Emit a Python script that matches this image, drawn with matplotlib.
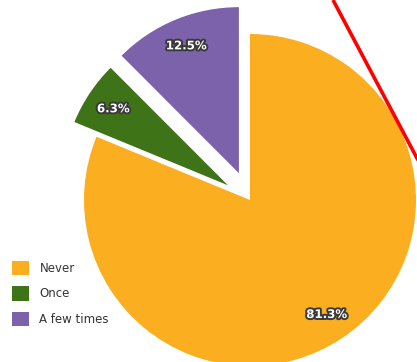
import matplotlib.pyplot as plt
import matplotlib.patheffects as pe
from matplotlib.patches import Patch
from matplotlib.lines import Line2D

# Risposte alla domanda (percentuali)
categorie = ["Never", "Once", "A few times"]
percentuali = [81.3, 6.3, 12.5]
colori = ["#FBAE1F", "#3F7318", "#7B62AA"]

W, H = 417, 362
raggio = 166
# spostamento delle fette staccate (in unità dati, come vuole ax.pie)
esplosione = [0, 0.16 * raggio, 0.175 * raggio]

fig = plt.figure(figsize=(W / 100, H / 100), dpi=100)
ax = fig.add_axes([0, 0, 1, 1])

wedges, texts, autotexts = ax.pie(
    percentuali,
    colors=colori,
    explode=esplosione,
    startangle=90,
    counterclock=False,
    center=(250, 162),
    radius=raggio,
    autopct=lambda p: "",
    pctdistance=0.83,
    wedgeprops=dict(linewidth=0),
    frame=True,
)

# Etichette percentuali con contorno scuro
for t, v in zip(autotexts, percentuali):
    t.set_text(f"{v:.1f}%")
    t.set_color("white")
    t.set_fontsize(8.5)
    t.set_fontweight("bold")
    t.set_path_effects([pe.withStroke(linewidth=2.8, foreground="#3a3a3a")])

ax.set_xlim(0, W)
ax.set_ylim(0, H)
ax.set_aspect("equal")
ax.axis("off")

# Linea rossa in alto a destra
ax.add_line(Line2D([333, 419], [H, H - 162], color="#FF0000", linewidth=2.6,
                   solid_capstyle="butt"))

handles = [Patch(facecolor=c, edgecolor="none") for c in colori]
ax.legend(handles, categorie, loc="upper left", bbox_to_anchor=(0.018, 0.292),
          frameon=False, fontsize=8.5, handlelength=1.4, handleheight=1.5,
          handletextpad=0.9, labelspacing=0.93, borderaxespad=0,
          labelcolor="#333333")

fig.savefig("out.png", dpi=100)
